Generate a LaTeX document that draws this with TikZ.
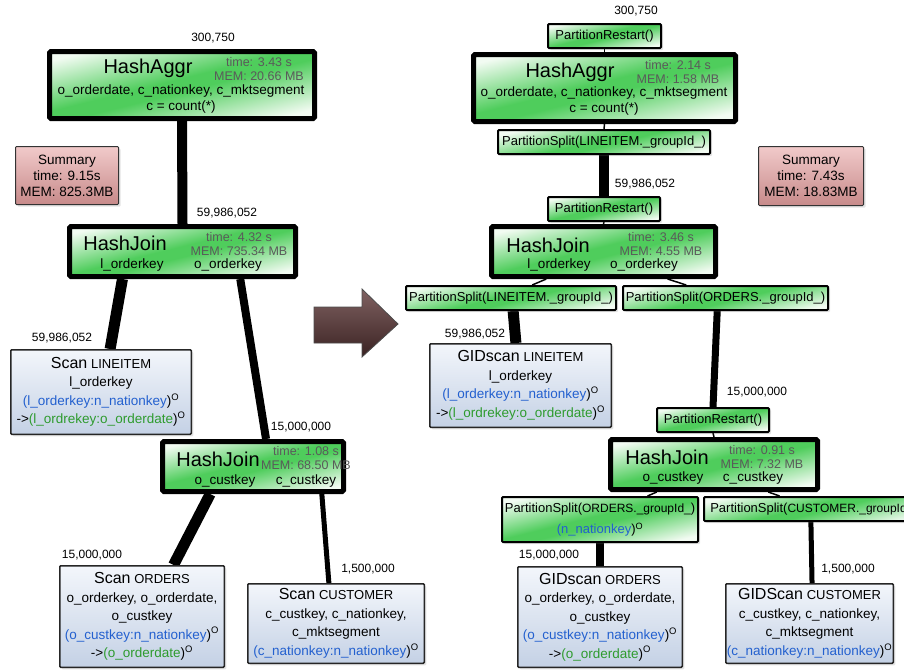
\documentclass[tikz,border=0pt]{standalone}
\usepackage{fontspec}
\setmainfont{Liberation Sans}
\usetikzlibrary{calc,shadows,backgrounds}
\definecolor{gmid}{HTML}{4FCD5C}
\definecolor{gend}{HTML}{F2FBF2}
\definecolor{scantop}{HTML}{F3F6FB}
\definecolor{scanbot}{HTML}{C4D1E5}
\definecolor{sumtop}{HTML}{F1CACA}
\definecolor{sumbot}{HTML}{C78A8A}
\definecolor{statgray}{HTML}{5A5A5A}
\definecolor{keyblue}{HTML}{2360CF}
\definecolor{keygreen}{HTML}{2E9B2E}
\definecolor{arrtop}{HTML}{806262}
\definecolor{arrmid}{HTML}{AE7070}
\definecolor{arrbot}{HTML}{3A2222}
\pgfdeclarehorizontalshading{greenband}{100bp}{color(0bp)=(gend); color(24bp)=(gend); color(47bp)=(gmid); color(53bp)=(gmid); color(76bp)=(gend); color(100bp)=(gend)}
\newcommand\bodyfont{\fontsize{13.5}{16}\selectfont}
\newcommand\scanfont{\fontsize{13.5}{18.5}\selectfont}
\newcommand\partfont{\fontsize{13}{21}\selectfont}
\newcommand\titlefont{\fontsize{20}{22}\selectfont}
\newcommand\statfont{\fontsize{12.5}{14}\selectfont}
\newcommand\countfont{\fontsize{12}{14}\selectfont}
\newcommand\argfont{\fontsize{12}{14}\selectfont}
\newcommand\scanword{\fontsize{16}{18}\selectfont}
\tikzstyle{softshadow}=[drop shadow={opacity=.22, shadow xshift=2pt, shadow yshift=-2pt}]
\tikzstyle{greenfill}=[shading=greenband, shading angle=-76]
\tikzstyle{opbox}=[draw=black, line width=5pt, greenfill, rounded corners=1.5pt, softshadow, inner sep=0pt]
\tikzstyle{partbox}=[draw=black, line width=2pt, greenfill, rounded corners=1pt, softshadow, inner sep=0pt, font=\partfont, align=center]
\tikzstyle{scanbox}=[draw=black!85, line width=1.5pt, top color=scantop, bottom color=scanbot, rounded corners=1pt, softshadow, inner sep=0pt]
\tikzstyle{sumbox}=[draw=black!80, line width=1pt, top color=sumtop, bottom color=sumbot, rounded corners=1pt, softshadow, inner sep=0pt, align=center, font=\bodyfont]
\tikzstyle{title}=[inner sep=0pt, font=\titlefont]
\tikzstyle{stats}=[inner sep=0pt, align=center, text=statgray, font=\statfont]
\tikzstyle{keys}=[inner sep=0pt, align=center, font=\bodyfont]
\tikzstyle{scantext}=[inner sep=0pt, align=center, font=\scanfont]
\tikzstyle{rows}=[inner sep=0pt, font=\countfont]
\tikzset{flow/.style={draw=black, line width=#1}}

\begin{document}
\begin{tikzpicture}[x=1pt,y=-1pt]
\useasboundingbox (0,0) rectangle (904,670);
% plan before
\node[opbox, minimum width=265pt, minimum height=67pt] (aggrL) at (182,85) {};
\node[title] (aggrLname) at (148,68) {HashAggr};
\node[stats] (aggrLstat) at (259,69) {time: 3.43 s\\MEM: 20.66 MB};
\node[keys] (aggrLkeys) at (181,99) {o\_orderdate, c\_nationkey, c\_mktsegment\\c = count(*)};
\node[rows] (aggrLrows) at (213,38) {300,750};
\node[sumbox, minimum width=103pt, minimum height=58pt] (sumL) at (67,175.5) {Summary\\time: 9.15s\\MEM: 825.3MB};
\node[opbox, minimum width=226pt, minimum height=50pt] (joinL) at (182.5,251.5) {};
\node[title] (joinLname) at (125,243) {HashJoin};
\node[stats] (joinLstat) at (239,244) {time: 4.32 s\\MEM: 735.34 MB};
\node[keys] (joinLleft) at (132,265) {l\_orderkey};
\node[keys] (joinLright) at (228,265) {o\_orderkey};
\node[rows] (joinLrows) at (227,213) {59,986,052};
\node[scanbox, minimum width=180.5pt, minimum height=84.5pt] (scanLI) at (101,392) {};
\node[scantext] (scanLItext) at (scanLI.center) {{\scanword Scan} {\fontsize{13}{18.5}\selectfont LINEITEM}\\l\_orderkey\\\textcolor{keyblue}{(l\_orderkey:n\_nationkey}){\textsuperscript{O}}\\->\textcolor{keygreen}{(l\_ordrekey:o\_orderdate}){\textsuperscript{O}}};
\node[rows] (scanLIrows) at (62,338) {59,986,052};
\node[opbox, minimum width=181pt, minimum height=50pt] (joinL2) at (253,466.5) {};
\node[title] (joinL2name) at (218,459) {HashJoin};
\node[stats] (joinL2stat) at (306,458) {time: 1.08 s\\MEM: 68.50 MB};
\node[keys] (joinL2left) at (225,481) {o\_custkey};
\node[keys] (joinL2right) at (306,481) {c\_custkey};
\node[rows] (joinL2rows) at (301,427) {15,000,000};
\node[scanbox, minimum width=164.5pt, minimum height=101.5pt] (scanOR) at (142,616.5) {};
\node[scantext] (scanORtext) at (scanOR.center) {{\scanword Scan} {\fontsize{13}{18.5}\selectfont ORDERS}\\o\_orderkey, o\_orderdate,\\o\_custkey\\\textcolor{keyblue}{(o\_custkey:n\_nationkey}){\textsuperscript{O}}\\->\textcolor{keygreen}{(o\_orderdate}){\textsuperscript{O}}};
\node[rows] (scanORrows) at (92,555) {15,000,000};
\node[scanbox, minimum width=176.5pt, minimum height=79.5pt] (scanCU) at (336,623.5) {};
\node[scantext] (scanCUtext) at (scanCU.center) {{\scanword Scan} {\fontsize{13}{18.5}\selectfont CUSTOMER}\\c\_custkey, c\_nationkey,\\c\_mktsegment\\\textcolor{keyblue}{(c\_nationkey:n\_nationkey}){\textsuperscript{O}}};
\node[rows] (scanCUrows) at (368,569) {1,500,000};
% plan after
\node[partbox, minimum width=113pt, minimum height=24pt] (prTop) at (604.5,36) {PartitionRestart()};
\node[rows] (prToprows) at (636,11) {300,750};
\node[opbox, minimum width=262pt, minimum height=67pt] (aggrR) at (604.5,88) {};
\node[title] (aggrRname) at (570,72) {HashAggr};
\node[stats] (aggrRstat) at (678,72) {time: 2.14 s\\MEM: 1.58 MB};
\node[keys] (aggrRkeys) at (604,101) {o\_orderdate, c\_nationkey, c\_mktsegment\\c = count(*)};
\node[partbox, minimum width=212pt, minimum height=24pt] (psTop) at (604,142) {PartitionSplit(LINEITEM.\_groupId\_)};
\node[partbox, minimum width=112pt, minimum height=24pt] (prMid) at (604,209) {PartitionRestart()};
\node[rows] (prMidrows) at (645,184) {59,986,052};
\node[sumbox, minimum width=105pt, minimum height=59pt] (sumR) at (811,176) {Summary\\time: 7.43s\\MEM: 18.83MB};
\node[opbox, minimum width=224pt, minimum height=50pt] (joinR) at (603.5,251.5) {};
\node[title] (joinRname) at (548,245) {HashJoin};
\node[stats] (joinRstat) at (661,244) {time: 3.46 s\\MEM: 4.55 MB};
\node[keys] (joinRleft) at (559,265) {l\_orderkey};
\node[keys] (joinRright) at (644,265) {o\_orderkey};
\node[partbox, minimum width=210pt, minimum height=24pt] (psL) at (511,298) {PartitionSplit(LINEITEM.\_groupId\_)};
\node[partbox, minimum width=205pt, minimum height=24pt] (psO) at (725.5,298) {PartitionSplit(ORDERS.\_groupId\_)};
\node[scanbox, minimum width=181.5pt, minimum height=83.5pt] (gsLI) at (520.5,385.5) {};
\node[scantext] (gsLItext) at (gsLI.center) {{\scanword GIDscan} {\fontsize{13}{18.5}\selectfont LINEITEM}\\l\_orderkey\\\textcolor{keyblue}{(l\_orderkey:n\_nationkey}){\textsuperscript{O}}\\->\textcolor{keygreen}{(l\_ordrekey:o\_orderdate}){\textsuperscript{O}}};
\node[rows] (gsLIrows) at (475,334) {59,986,052};
\node[partbox, minimum width=112pt, minimum height=24pt] (prLow) at (713,420) {PartitionRestart()};
\node[rows] (prLowrows) at (757,392) {15,000,000};
\node[opbox, minimum width=207pt, minimum height=50pt] (joinR2) at (714,464.5) {};
\node[title] (joinR2name) at (667,457) {HashJoin};
\node[stats] (joinR2stat) at (762,457) {time: 0.91 s\\MEM: 7.32 MB};
\node[keys] (joinR2left) at (673,478) {o\_custkey};
\node[keys] (joinR2right) at (753,478) {c\_custkey};
\node[partbox, minimum width=196pt, minimum height=45pt] (psOR) at (600,519.5) {PartitionSplit({\argfont ORDERS.\_groupId\_})\\\textcolor{keyblue}{(n\_nationkey}){\textsuperscript{O}}};
\node[partbox, minimum width=220pt, minimum height=24pt, anchor=west] (psCU) at (703,509) {PartitionSplit({\argfont CUSTOMER.\_groupId\_})};
\node[scanbox, minimum width=164.5pt, minimum height=100.5pt] (gsOR) at (600,617) {};
\node[scantext] (gsORtext) at (gsOR.center) {{\scanword GIDscan} {\fontsize{13}{18.5}\selectfont ORDERS}\\o\_orderkey, o\_orderdate,\\o\_custkey\\\textcolor{keyblue}{(o\_custkey:n\_nationkey}){\textsuperscript{O}}\\->\textcolor{keygreen}{(o\_orderdate}){\textsuperscript{O}}};
\node[rows] (gsORrows) at (549,555) {15,000,000};
\node[scanbox, minimum width=167.5pt, minimum height=79.5pt] (gsCU) at (809.5,623.5) {};
\node[scantext] (gsCUtext) at (gsCU.center) {{\scanword GIDScan} {\fontsize{13}{18.5}\selectfont CUSTOMER}\\c\_custkey, c\_nationkey,\\c\_mktsegment\\\textcolor{keyblue}{(c\_nationkey:n\_nationkey}){\textsuperscript{O}}};
\node[rows] (gsCUrows) at (848,569) {1,500,000};
% data flow
\begin{scope}[on background layer]
\draw[flow=10pt] (aggrL.south) -- (joinL.north);
\draw[flow=11pt] ($(joinL.south west)!.24!(joinL.south east)$) -- ($(scanLI.north west)!.55!(scanLI.north east)$);
\draw[flow=8pt] ($(joinL.south west)!.75!(joinL.south east)$) -- ($(joinL2.north west)!.57!(joinL2.north east)$);
\draw[flow=11pt] ($(joinL2.south west)!.27!(joinL2.south east)$) -- ($(scanOR.north west)!.69!(scanOR.north east)$);
\draw[flow=5pt] ($(joinL2.south west)!.87!(joinL2.south east)$) -- ($(scanCU.north west)!.46!(scanCU.north east)$);
\draw[flow=1.5pt] (prTop.south) -- (aggrR.north);
\draw[flow=1.5pt] (aggrR.south) -- (psTop.north);
\draw[flow=10pt] (psTop.south) -- (prMid.north);
\draw[flow=1.5pt] (prMid.south) -- (joinR.north);
\draw[flow=1.5pt] ($(joinR.south west)!.25!(joinR.south east)$) -- ($(psL.north west)!.6!(psL.north east)$);
\draw[flow=1.5pt] ($(joinR.south west)!.78!(joinR.south east)$) -- ($(psO.north west)!.31!(psO.north east)$);
\draw[flow=11pt] ($(psL.south west)!.51!(psL.south east)$) -- ($(gsLI.north west)!.475!(gsLI.north east)$);
\draw[flow=7pt] ($(psO.south west)!.46!(psO.south east)$) -- (prLow.north);
\draw[flow=1.5pt] (prLow.south) -- (joinR2.north);
\draw[flow=1.5pt] ($(joinR2.south west)!.23!(joinR2.south east)$) -- ($(psOR.north west)!.74!(psOR.north east)$);
\draw[flow=1.5pt] ($(joinR2.south west)!.756!(joinR2.south east)$) -- ($(psCU.north west)!.345!(psCU.north east)$);
\draw[flow=8pt] (psOR.south) -- (gsOR.north);
\draw[flow=5pt] ($(psCU.south west)!.486!(psCU.south east)$) -- ($(gsCU.north west)!.515!(gsCU.north east)$);
\end{scope}
\shadedraw[top color=arrtop, middle color=arrmid, bottom color=arrbot, draw=black!70, line width=.8pt]
  (314,307) -- (362,307) -- (362,289) -- (398,324) -- (362,357) -- (362,343) -- (314,343) -- cycle;
\end{tikzpicture}
\end{document}
